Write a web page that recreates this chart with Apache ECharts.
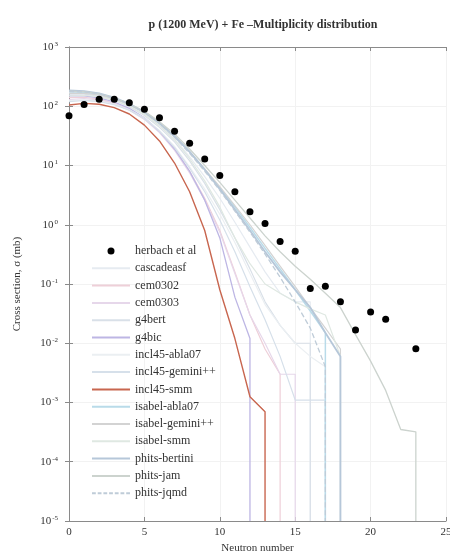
<!DOCTYPE html>
<html><head><meta charset="utf-8">
<script src="https://cdn.jsdelivr.net/npm/echarts@6/dist/echarts.min.js"></script>
<style>html,body{margin:0;padding:0;background:#fff}#c{width:450px;height:559px}</style>
</head><body><div id="c"></div>
<script>
const chartTitle = 'p (1200 MeV) + Fe \u2013Multiplicity distribution';
const xName = 'Neutron number';
const yName = 'Cross section, \u03c3 (mb)';
const xMin = 0, xMax = 25, xStep = 5;
const yMin = 1e-5, yMax = 1e3;

// experimental points
const herbachX = [0,1,2,3,4,5,6,7,8,9,10,11,12,13,14,15,16,17,18,19,20,21,23];
const herbachY = [69,107,131,131,115,89,64,38,23.8,12.9,6.8,3.6,1.66,1.05,0.52,0.357,0.0836,0.0914,0.050,0.0167,0.0337,0.0253,0.0081];

// model curves, value at neutron number 0,1,2,... ; 0 = no events (curve drops)
const cascadeasf    = [170,168,155,132,104,75,48,28,14,6.5,2.8,1.1,0.42,0.16,0.07,0.05,0.05,0];
const cem0302       = [140,142,132,112,88,62,37,19,8,2.8,0.8,0.16,0.03,0.008,0.003,0];
const cem0303       = [130,135,128,110,86,60,36,18,7.5,2.6,0.75,0.15,0.03,0.01,0.003,0.003,0];
const g4bert        = [160,160,148,126,98,70,44,25,12,5,1.8,0.6,0.18,0.05,0.02,0.01,0.01,0];
const g4bic         = [150,150,138,118,92,64,38,19,8,2.6,0.6,0.06,0.012,0];
const incl45Abla07  = [125,128,122,108,87,63,39,21,9.5,4,1.5,0.5,0.15,0.045,0.02,0.01,0.006,0.004,0];
const incl45Gemini  = [120,125,120,106,86,62,38,20,9,3.6,1.2,0.35,0.09,0.025,0.006,0.0011,0.0011,0.0011,0];
const incl45Smm     = [105,112,108,95,74,48,26,11,3.6,0.8,0.08,0.012,0.00125,0.0007,0];
const isabelAbla07  = [175,172,160,137,108,79,52,31,17,8.6,4.2,2,0.9,0.4,0.18,0.08,0.035,0.015,0];
const isabelGemini  = [165,165,155,133,106,78,51,31,17,8.8,4.4,2.1,1,0.45,0.2,0.09,0.04,0.018,0.008,0];
const isabelSmm     = [150,152,145,126,100,73,47,27,13,5.5,2,0.6,0.22,0.1,0.07,0.05,0.038,0.03,0.006,0];
const phitsBertini  = [185,180,165,140,110,80,52,31,17,8.5,4,1.8,0.8,0.35,0.16,0.08,0.04,0.015,0.006,0];
const phitsJam      = [180,176,162,138,110,82,55,34,19,10,5.2,2.6,1.3,0.65,0.35,0.2,0.12,0.07,0.04,0.014,0.005,0.0016,0.00035,0.00032,0];
const phitsJqmd     = [178,175,162,138,109,79,51,30,16,8,3.8,1.7,0.75,0.32,0.13,0.05,0.018,0.004,0];

const modelNames  = ['cascadeasf','cem0302','cem0303','g4bert','g4bic','incl45-abla07','incl45-gemini++','incl45-smm','isabel-abla07','isabel-gemini++','isabel-smm','phits-bertini','phits-jam','phits-jqmd'];
const modelValues = [cascadeasf,cem0302,cem0303,g4bert,g4bic,incl45Abla07,incl45Gemini,incl45Smm,isabelAbla07,isabelGemini,isabelSmm,phitsBertini,phitsJam,phitsJqmd];
const modelColors = ['#e6ebf1','#eecfd8','#e6d7ea','#d9e0e8','#bdb6e4','#ebeff2','#d6e0ea','#c8664f','#b9dbe9','#d3d3d3','#dfe8e2','#b6c7d9','#ccd3ce','#bfccd8'];
const modelWidths = [1.2,1.2,1.2,1.2,1.3,1.2,1.2,1.4,1.5,1.2,1.2,1.8,1.3,1.3];
const modelDash   = ['solid','solid','solid','solid','solid','solid','solid','solid','solid','solid','solid','solid','solid','dashed'];

function toPairs(vals){
  const out = [];
  for (let i = 0; i < vals.length; i++) {
    if (vals[i] > 0) out.push([i, vals[i]]);
    else { if (i > 0) out.push([i - 1, yMin]); break; }
  }
  return out;
}
function lineIcon(dashed){
  if (!dashed) return 'path://M0,0h38v2h-38z';
  let p = 'path://';
  for (let x = 0; x < 38; x += 6) p += 'M' + x + ',0h4v2h-4z';
  return p;
}

const serif = 'Liberation Serif';
const series = modelNames.map((n, k) => ({
  name: n, type: 'line', data: toPairs(modelValues[k]),
  symbol: 'none', showSymbol: false, z: n === 'incl45-smm' ? 4 : 2,
  lineStyle: { color: modelColors[k], width: modelWidths[k], type: modelDash[k] },
  itemStyle: { color: modelColors[k] }
}));
series.unshift({
  name: 'herbach et al', type: 'scatter', z: 10,
  data: herbachX.map((x, i) => [x, herbachY[i]]),
  symbol: 'circle', symbolSize: 7, itemStyle: { color: '#000', opacity: 1 }
});

const chart = echarts.init(document.getElementById('c'), null, { renderer: 'canvas' });
const axisLine = { show: true, lineStyle: { color: '#8a8a8a', width: 1 } };
chart.setOption({
  animation: false,
  backgroundColor: '#fff',
  title: { text: chartTitle, left: 258, top: 14, textAlign: 'center',
    textStyle: { fontFamily: serif, fontSize: 12, fontWeight: 'bold', color: '#333' } },
  grid: { left: 69, right: 4, top: 47, bottom: 38, outerBoundsMode: 'none', containLabel: false },
  legend: {
    orient: 'vertical', left: 87, top: 240, itemWidth: 38, itemHeight: 7, itemGap: 5.3,
    textStyle: { fontFamily: serif, fontSize: 12, color: '#333', lineHeight: 12 },
    data: [{ name: 'herbach et al', icon: 'circle', itemStyle: { color: '#000', opacity: 1 } }].concat(modelNames.map((n, k) => ({
      name: n, icon: lineIcon(modelDash[k] === 'dashed'),
      itemStyle: { color: modelColors[k], borderWidth: 0, borderColor: modelColors[k], opacity: 1 }
    })))
  },
  xAxis: [{
    type: 'value', min: xMin, max: xMax, interval: xStep,
    name: xName, nameLocation: 'middle', nameGap: 21,
    nameTextStyle: { fontFamily: serif, fontSize: 11, color: '#333' },
    axisLine: axisLine, axisTick: { inside: true, length: 4, lineStyle: { color: '#8a8a8a' } },
    axisLabel: { fontFamily: serif, fontSize: 11, color: '#333', margin: 6, showMaxLabel: true },
    splitLine: { show: true, lineStyle: { color: '#f2f2f2' } }
  }, {
    type: 'value', position: 'top', min: xMin, max: xMax, interval: xStep,
    axisLine: axisLine, axisTick: { inside: true, length: 4, lineStyle: { color: '#8a8a8a' } },
    axisLabel: { show: false }, splitLine: { show: false }
  }],
  yAxis: [{
    type: 'log', logBase: 10, min: yMin, max: yMax, interval: 1,
    name: yName, nameLocation: 'middle', nameGap: 46,
    nameTextStyle: { fontFamily: serif, fontSize: 11, color: '#333' },
    axisLine: axisLine, axisTick: { inside: true, length: 4, lineStyle: { color: '#8a8a8a' } },
    axisLabel: {
      margin: 11,
      formatter: v => '{b|10}{s|' + Math.round(Math.log10(v)) + '}',
      rich: {
        b: { fontFamily: serif, fontSize: 11, color: '#333' },
        s: { fontFamily: serif, fontSize: 7, color: '#333', verticalAlign: 'top', padding: [0, 0, 6, 1] }
      }
    },
    splitLine: { show: true, lineStyle: { color: '#f2f2f2' } }
  }, {
    type: 'log', logBase: 10, position: 'right', min: yMin, max: yMax, interval: 1,
    axisLine: axisLine, axisTick: { inside: true, length: 4, lineStyle: { color: '#8a8a8a' } },
    axisLabel: { show: false }, splitLine: { show: false }
  }],
  series: series
});
</script></body></html>
